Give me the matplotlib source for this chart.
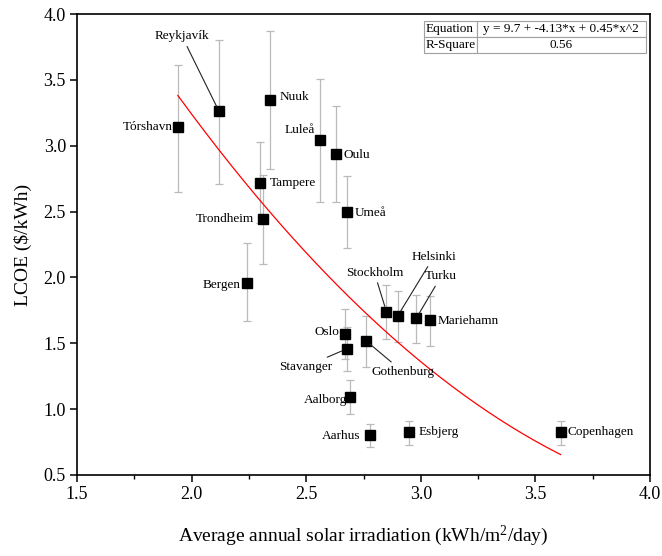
import numpy as np
import matplotlib
matplotlib.use("Agg")
import matplotlib.pyplot as plt
from matplotlib.table import Table
from matplotlib.ticker import MultipleLocator

plt.rcParams['font.family'] = ['Liberation Serif', 'DejaVu Serif']
plt.rcParams['mathtext.fontset'] = 'custom'
plt.rcParams['mathtext.rm'] = 'Liberation Serif'

# Cities, irradiation (kWh/m2/day), LCOE ($/kWh) and its low/high range
cities = ['Tórshavn', 'Reykjavík', 'Nuuk', 'Luleå', 'Oulu', 'Tampere', 'Trondheim',
          'Bergen', 'Umeå', 'Stockholm', 'Helsinki', 'Turku', 'Mariehamn', 'Oslo',
          'Stavanger', 'Gothenburg', 'Aalborg', 'Aarhus', 'Esbjerg', 'Copenhagen']
irradiation = [1.94, 2.12, 2.34, 2.56, 2.63, 2.30, 2.31, 2.24, 2.68, 2.85,
               2.90, 2.98, 3.04, 2.67, 2.68, 2.76, 2.69, 2.78, 2.95, 3.61]
lcoe = [3.14, 3.26, 3.35, 3.04, 2.94, 2.72, 2.44, 1.96, 2.50, 1.74,
        1.71, 1.69, 1.675, 1.57, 1.46, 1.52, 1.09, 0.80, 0.83, 0.83]
lcoe_low = [2.65, 2.71, 2.82, 2.57, 2.57, 2.41, 2.10, 1.67, 2.22, 1.53,
            1.51, 1.50, 1.48, 1.38, 1.29, 1.32, 0.96, 0.71, 0.73, 0.73]
lcoe_high = [3.61, 3.80, 3.87, 3.51, 3.30, 3.03, 2.78, 2.26, 2.77, 1.94,
             1.90, 1.87, 1.86, 1.76, 1.62, 1.71, 1.22, 0.89, 0.91, 0.91]

# quadratic fit y = a + b*x + c*x^2
fit_coef = [9.7, -4.13, 0.45]
r_square = 0.56

# label offsets in pixels (dx, dy), alignment, and whether a leader line is drawn
label_pos = {
    'Tórshavn': (-5, 0, 'right', False),
    'Reykjavík': (-37, 75, 'center', True),
    'Nuuk': (10, 3, 'left', False),
    'Luleå': (-5, 10, 'right', False),
    'Oulu': (8, -1, 'left', False),
    'Tampere': (9, 0, 'left', False),
    'Trondheim': (-9, 0, 'right', False),
    'Bergen': (-6, -2, 'right', False),
    'Umeå': (7, -1, 'left', False),
    'Stockholm': (-12, 39, 'center', True),
    'Helsinki': (36, 59, 'center', True),
    'Turku': (25, 42, 'center', True),
    'Mariehamn': (8, -1, 'left', False),
    'Oslo': (-6, 2, 'right', False),
    'Stavanger': (-42, -18, 'center', True),
    'Gothenburg': (37, -31, 'center', True),
    'Aalborg': (-3, -3, 'right', False),
    'Aarhus': (-10, -1, 'right', False),
    'Esbjerg': (9, 0, 'left', False),
    'Copenhagen': (7, 0, 'left', False),
}

x = np.array(irradiation)
y = np.array(lcoe)
yerr = [y - np.array(lcoe_low), np.array(lcoe_high) - y]

fig = plt.figure(figsize=(6.62, 5.56), dpi=100)
ax = fig.add_axes([0.1163, 0.1457, 0.8656, 0.8291])

ax.errorbar(x, y, yerr=yerr, fmt='none', ecolor='#bababa', elinewidth=0.9,
            capsize=3, capthick=0.9, zorder=2)

xf = np.linspace(x.min(), x.max(), 200)
yf = fit_coef[0] + fit_coef[1] * xf + fit_coef[2] * xf ** 2
ax.plot(xf, yf, color='red', lw=0.9, zorder=3)

ax.plot(x, y, 's', color='black', markersize=6.5, zorder=4)

px = 0.72  # pixels -> points at 100 dpi
for name, xi, yi in zip(cities, x, y):
    dx, dy, ha, leader = label_pos[name]
    arrow = None
    if leader:
        arrow = dict(arrowstyle='-', color='#222222', lw=0.8, shrinkA=1, shrinkB=4)
    ax.annotate(name, xy=(xi, yi), xytext=(dx * px, dy * px), textcoords='offset points',
                ha=ha, va='center', fontsize=9.5, arrowprops=arrow, zorder=5)

ax.set_xlim(1.5, 4.0)
ax.set_ylim(0.5, 4.0)
ax.xaxis.set_major_locator(MultipleLocator(0.5))
ax.xaxis.set_minor_locator(MultipleLocator(0.25))
ax.yaxis.set_major_locator(MultipleLocator(0.5))
ax.tick_params(axis='both', which='major', direction='out', length=5, width=1.1,
               labelsize=13, pad=3)
ax.tick_params(axis='x', which='minor', direction='out', length=3, width=1.0)
for sp in ax.spines.values():
    sp.set_linewidth(1.2)

ax.set_xlabel(r'Average annual solar irradiation (kWh/m$\mathregular{^2}$/day)', fontsize=14,
              labelpad=15)
ax.set_ylabel(r'LCOE (\$/kWh)', fontsize=14, labelpad=8)

# fit summary table in the upper right corner
tb = Table(ax, bbox=[0.6056, 0.9148, 0.3874, 0.0707])
eq_text = 'y = {} + {}*x + {}*x^2'.format(*fit_coef)
rows = [('Equation', eq_text), ('R-Square', '{:.2f}'.format(r_square))]
widths = [0.237, 0.763]
for r, (k, v) in enumerate(rows):
    c0 = tb.add_cell(r, 0, widths[0], 0.5, text=k, loc='left')
    c1 = tb.add_cell(r, 1, widths[1], 0.5, text=v, loc='center')
    for c in (c0, c1):
        c.set_edgecolor('#a0a0a0')
        c.set_linewidth(0.8)
        c.PAD = 0.03
tb.auto_set_font_size(False)
tb.set_fontsize(9.5)
ax.add_table(tb)

fig.savefig('out.png', dpi=100)
